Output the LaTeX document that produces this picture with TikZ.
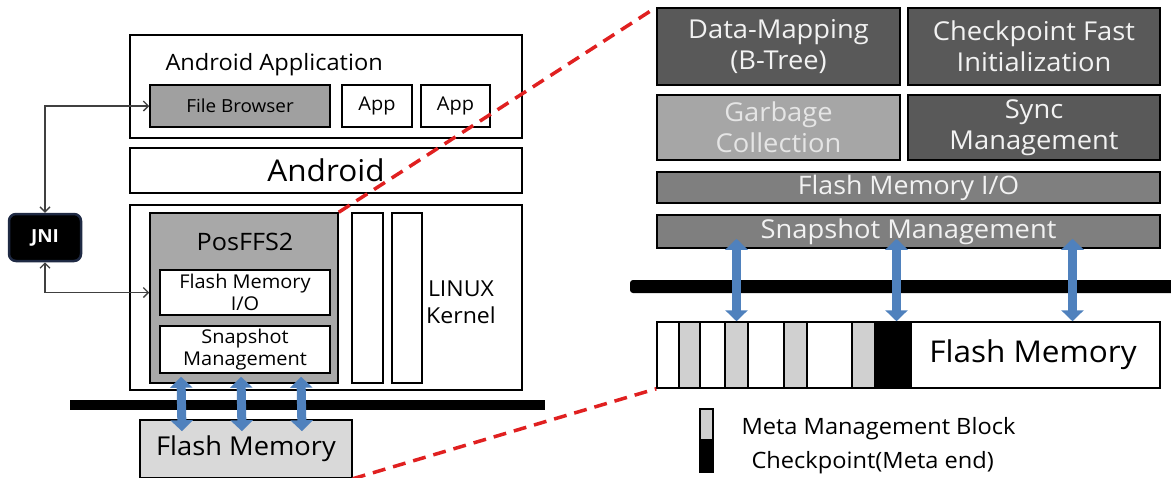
\documentclass[tikz,border=0pt]{standalone}
\usepackage{fontspec}
\setmainfont{Open Sans}[FakeStretch=1.05]
\usetikzlibrary{arrows.meta}

\definecolor{fbgray}{HTML}{A0A0A0}
\definecolor{posgray}{HTML}{A8A8A8}
\definecolor{flgray}{HTML}{D9D9D9}
\definecolor{darkbox}{HTML}{595959}
\definecolor{midbox}{HTML}{7F7F7F}
\definecolor{lightbox}{HTML}{A6A6A6}
\definecolor{cellgray}{HTML}{D0D0D0}
\definecolor{arrowblue}{HTML}{4F81BD}
\definecolor{jniedge}{HTML}{1F2A44}
\definecolor{dashred}{HTML}{E02020}

\newcommand\fs[2]{\fontsize{#1}{#2}\selectfont}

\tikzset{
	box/.style={draw=black, line width=1.5pt, inner sep=0pt, align=center},
	sz/.style 2 args={minimum width=#1, minimum height=#2},
	darkcell/.style={box, fill=darkbox, text=white!95!black, font=\fs{26}{31}},
	bar/.style={fill=black, inner sep=0pt},
	jniline/.style={draw=black!75, line width=1.3pt, {Straight Barb[length=5pt,width=10pt]}-{Straight Barb[length=5pt,width=10pt]}},
	bluearrow/.style={draw=arrowblue, line width=9pt, {Triangle[length=11pt,width=22pt]}-{Triangle[length=11pt,width=22pt]}},
	reddash/.style={draw=dashred, line width=3.5pt, dash pattern=on 13pt off 8pt},
}

\begin{document}
\begin{tikzpicture}[x=1pt,y=-1pt]
\useasboundingbox (0,0) rectangle (1171,477);

% left: android stack
\node[box, sz={392}{103}] (appbox) at (326,86.5) {};
\node[anchor=west, font=\fs{22.5}{26}] (apptitle) at (162,65) {Android Application};
\node[box, fill=fbgray, sz={180}{42}, font=\fs{18}{21}] (fb) at (240,106) {File Browser};
\node[box, sz={70}{42}, font=\fs{19}{21}] (app1) at (377,106) {App};
\node[box, sz={69}{42}, font=\fs{19}{21}] (app2) at (455.5,106) {App};

\node[box, sz={392}{45}, font=\fs{30}{33}] (android) at (326,170.5) {Android};

\node[box, sz={392}{185}] (kernel) at (326,297.5) {};
\node[box, fill=posgray, sz={188}{170}] (posffs) at (244,298) {};
\node[font=\fs{24}{27}] (posname) at (245,242) {PosFFS2};
\node[box, fill=white, sz={170}{45}, font=\fs{19}{22}] (fmio) at (245,292.5) {Flash Memory\\I/O};
\node[box, fill=white, sz={170}{47}, font=\fs{19}{22}] (snap) at (245,349.5) {Snapshot\\Management};
\node[box, sz={31}{170}] (col1) at (367.5,298) {};
\node[box, sz={30}{170}] (col2) at (407,298) {};
\node[font=\fs{22}{27}, align=center] (linux) at (461,302) {LINUX\\Kernel};

\node[bar, sz={475}{10}] (busL) at (307.5,405) {};
\node[box, fill=flgray, sz={212}{58}, font=\fs{26}{30}] (flashL) at (246,449) {Flash Memory};

\node[draw=jniedge, line width=2.5pt, fill=black, rounded corners=7pt, sz={72}{47},
	text=white, font=\fs{18}{21}\bfseries] (jni) at (45,237.5) {JNI};
\draw[jniline] (jni.north) |- (fb.west);
\draw[jniline] (jni.south) |- (fmio.west -| posffs.west);

\foreach \x in {-64,-4,56}{
	\draw[bluearrow] ([xshift=\x pt, yshift=-3pt]snap.south) -- ([xshift=\x pt, yshift=-12pt]flashL.north);
}

% right: posffs2 detail
\node[darkcell, sz={243}{77}] (dm) at (778.5,46.5) {Data-Mapping\\(B-Tree)};
\node[darkcell, sz={252}{77}] (cfi) at (1034,46.5) {Checkpoint Fast\\Initialization};
\node[darkcell, fill=lightbox, text=white!90!black, sz={243}{65}] (gc) at (778.5,127.5) {Garbage\\Collection};
\node[darkcell, sz={252}{65}] (sync) at (1034,127.5) {Sync\\Management};
\node[darkcell, fill=midbox, sz={503}{31}, font=\fs{25.5}{28}] (fio) at (908.5,187.5) {Flash Memory I/O};
\node[darkcell, fill=midbox, sz={503}{33}, font=\fs{26}{28}] (snapR) at (908.5,231.5) {Snapshot Management};

\node[bar, rounded corners=3pt, sz={545}{13}] (busR) at (902.5,286.5) {};

\foreach \c\a\b in{
	white/657/679
	,cellgray/679/700
	,white/700/725
	,cellgray/725/748
	,white/748/784
	,cellgray/784/807
	,white/807/852
	,cellgray/852/875
	,black/875/911
	,white/911/1160
}{
	\draw[line width=1.5pt, fill=\c] (\a,322) rectangle (\b,388);
}
\node[box, sz={503}{66}] (strip) at (908.5,355) {};
\node[font=\fs{30}{33}] (flashR) at (1033,355) {Flash Memory};

\foreach \x in {-172,-12,164}{
	\draw[bluearrow] ([xshift=\x pt, yshift=10pt]snapR.south) -- ([xshift=\x pt]strip.north);
}

% legend
\draw[line width=1.5pt, fill=cellgray] (700,409) rectangle (713,440);
\draw[line width=1.5pt, fill=black] (700,440) rectangle (713,472);
\node[anchor=west, font=\fs{22.5}{26}] (legmeta) at (738,429) {Meta Management Block};
\node[anchor=west, font=\fs{22.5}{26}] (legcp) at (748,463) {Checkpoint(Meta end)};

% zoom lines
\draw[reddash] (posffs.north east) -- (dm.north west);
\draw[reddash] (flashL.south east) -- (strip.south west);

\end{tikzpicture}
\end{document}
